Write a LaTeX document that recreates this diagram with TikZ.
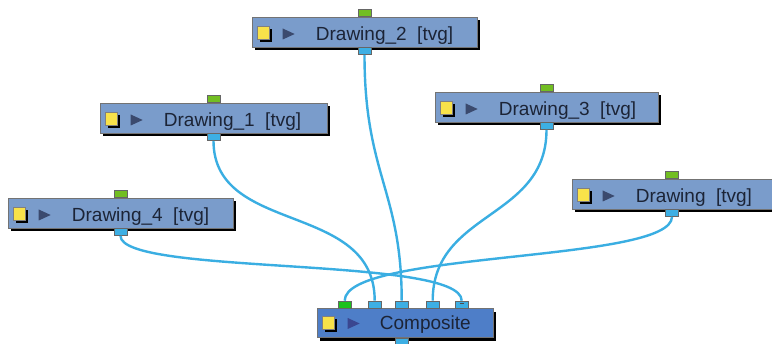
\documentclass[tikz,border=0pt]{standalone}
\usepackage{fontspec}
\setmainfont{Liberation Sans}
\usetikzlibrary{positioning,calc,shadows}
\definecolor{nodeblue}{HTML}{7A9CCB}
\definecolor{compblue}{HTML}{4E7EC8}
\definecolor{portgreen}{HTML}{72BE22}
\definecolor{compgreen}{HTML}{1CC21C}
\definecolor{portblue}{HTML}{3DAFE4}
\definecolor{wireblue}{HTML}{3AAEE2}
\definecolor{iconyellow}{HTML}{F8E24A}
\definecolor{playgrey}{HTML}{3B4A6E}
\definecolor{compplay}{HTML}{3A4790}
\definecolor{labeltext}{HTML}{1C2436}

\begin{document}
\begin{tikzpicture}[x=1pt, y=-1pt,
    module/.style={draw=black!55, line width=0.6pt, fill=nodeblue, minimum height=30pt, inner sep=0pt,
        drop shadow={shadow xshift=3pt, shadow yshift=-3.5pt, fill=black, opacity=1}},
    composite/.style={module, fill=compblue, minimum height=29pt},
    modlabel/.style={anchor=base west, inner sep=0pt, text=labeltext, font=\fontsize{19}{22}\selectfont},
    iconbox/.style={draw=black!50, line width=0.4pt, fill=iconyellow, minimum width=12pt, minimum height=13pt, inner sep=0pt,
        drop shadow={shadow xshift=3pt, shadow yshift=-3pt, fill=black, opacity=1}},
    port/.style={draw=black!60, line width=0.5pt, minimum width=13pt, minimum height=7pt, inner sep=0pt},
    greenport/.style={port, fill=portgreen},
    blueport/.style={port, fill=portblue},
    wire/.style={wireblue, line width=2.4pt}]
    \path[use as bounding box, fill=white] (0,0) rectangle (772,344);

    \node[module, minimum width=225pt] (drawing2) at (364.5,32) {};
    \node[module, minimum width=227pt] (drawing1) at (213.5,118) {};
    \node[module, minimum width=223pt] (drawing3) at (546.5,107) {};
    \node[module, minimum width=225pt] (drawing4) at (120.5,213) {};
    \node[module, minimum width=200pt] (drawing) at (672,194) {};
    \node[composite, minimum width=176pt] (comp) at (405,323) {};

    \node[iconbox] at ($(drawing2.west)+(11.5,0.5)$) {};
    \node[iconbox] at ($(drawing1.west)+(11.5,0.5)$) {};
    \node[iconbox] at ($(drawing3.west)+(11.5,0.5)$) {};
    \node[iconbox] at ($(drawing4.west)+(11.5,0.5)$) {};
    \node[iconbox] at ($(drawing.west)+(11.5,0.5)$) {};
    \node[iconbox] at ($(comp.west)+(11.5,-0.5)$) {};

    \fill[playgrey] ($(drawing2.west)+(31,-3.5)$) -- ++(12,5.5) -- ++(-12,5.5) -- cycle;
    \fill[playgrey] ($(drawing1.west)+(31,-3.5)$) -- ++(12,5.5) -- ++(-12,5.5) -- cycle;
    \fill[playgrey] ($(drawing3.west)+(31,-3.5)$) -- ++(12,5.5) -- ++(-12,5.5) -- cycle;
    \fill[playgrey] ($(drawing4.west)+(31,-3.5)$) -- ++(12,5.5) -- ++(-12,5.5) -- cycle;
    \fill[playgrey] ($(drawing.west)+(31,-3.5)$) -- ++(12,5.5) -- ++(-12,5.5) -- cycle;
    \fill[compplay] ($(comp.west)+(31,-5)$) -- ++(12,5.5) -- ++(-12,5.5) -- cycle;

    \node[modlabel] at ($(drawing2.west)+(64,8.5)$) {Drawing\_2~~[tvg]};
    \node[modlabel] at ($(drawing1.west)+(64,8.5)$) {Drawing\_1~~[tvg]};
    \node[modlabel] at ($(drawing3.west)+(64,8.5)$) {Drawing\_3~~[tvg]};
    \node[modlabel] at ($(drawing4.west)+(64,8.5)$) {Drawing\_4~~[tvg]};
    \node[modlabel] at ($(drawing.west)+(64,8.5)$) {Drawing~~[tvg]};
    \node[modlabel] at ($(comp.west)+(63,7)$) {Composite};

    \node[greenport, above=0pt of drawing2] (drawing2-in) {};
    \node[greenport, above=0pt of drawing1] (drawing1-in) {};
    \node[greenport, above=0pt of drawing3] (drawing3-in) {};
    \node[greenport, above=0pt of drawing4] (drawing4-in) {};
    \node[greenport, above=0pt of drawing] (drawing-in) {};
    \node[blueport, below=0pt of drawing2] (drawing2-out) {};
    \node[blueport, below=0pt of drawing1] (drawing1-out) {};
    \node[blueport, below=0pt of drawing3] (drawing3-out) {};
    \node[blueport, below=0pt of drawing4] (drawing4-out) {};
    \node[blueport, below=0pt of drawing] (drawing-out) {};

    \node[greenport, fill=compgreen, anchor=south] (comp-in1) at ($(comp.north west)+(28,0)$) {};
    \node[blueport, anchor=south] (comp-in2) at ($(comp.north west)+(58,0)$) {};
    \node[blueport, anchor=south] (comp-in3) at ($(comp.north west)+(85,0)$) {};
    \node[blueport, anchor=south] (comp-in4) at ($(comp.north west)+(116,0)$) {};
    \node[blueport, anchor=south] (comp-in5) at ($(comp.north west)+(145,0)$) {};
    \draw[black!70, line width=0.6pt] ($(comp-in5.center)+(-2,-1)$) -- ++(4,0);
    \node[blueport, anchor=north] (comp-out) at ($(comp.south)+(-3,0)$) {};

    \draw[wire] (drawing2-out.south) .. controls +(0,120) and +(0,-110) .. (comp-in3.north);
    \draw[wire] (drawing1-out.south) .. controls +(0,95) and +(0,-100) .. (comp-in2.north);
    \draw[wire] (drawing3-out.south) .. controls +(0,90) and +(0,-90) .. (comp-in4.north);
    \draw[wire] (drawing4-out.south) .. controls +(0,40) and +(0,-45) .. (comp-in5.north);
    \draw[wire] (drawing-out.south) .. controls +(0,46) and +(0,-50) .. (comp-in1.north);
\end{tikzpicture}
\end{document}
